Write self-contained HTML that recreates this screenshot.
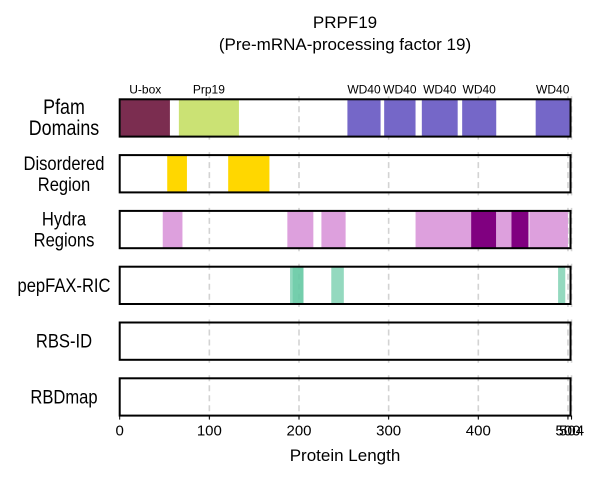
<!DOCTYPE html>
<html><head><meta charset="utf-8"><style>
body{margin:0;background:#fff;width:600px;height:480px;overflow:hidden}
svg{display:block;font-family:"Liberation Sans",Arial,sans-serif}
</style></head><body>
<svg id="chart" width="600" height="480" xmlns="http://www.w3.org/2000/svg">
<text x="345" y="28" text-anchor="middle" font-size="17">PRPF19</text>
<text x="345" y="50" text-anchor="middle" font-size="17">(Pre-mRNA-processing factor 19)</text>
<text x="345" y="461" text-anchor="middle" font-size="17">Protein Length</text>
<g id="plot"></g>
</svg>
<script>
const tracks = ["Pfam Domains","Disordered Region","Hydra Regions","pepFAX-RIC","RBS-ID","RBDmap"];
const pfamStarts = [1,66,254,295,337,382,464];
const pfamEnds = [56,133,291,330,377,420,502];
const pfamNames = ["U-box","Prp19","WD40","WD40","WD40","WD40","WD40"];
const pfamColors = ["#7b2d50","#cbe274","#7567c8","#7567c8","#7567c8","#7567c8","#7567c8"];
const disStarts = [53,121];
const disEnds = [75,167];
const hydraStarts = [48,187,225,330,392,420,437,457];
const hydraEnds = [70,216,252,392,420,437,456,500];
const hydraLevels = [1,1,1,1,2,1,2,1];
const pepStarts = [190,193,236,489];
const pepEnds = [205,205,250,497];
const tickValues = [0,100,200,300,400,500,504];
const proteinLength = 504;

const svg = document.getElementById('plot');
const NS = "http://www.w3.org/2000/svg";
const x0 = 119.7, xs = 0.8965;
function X(v){return x0 + v*xs;}
const rowTop = 99.3, rowH = 37.3, rowStep = 55.8;
function Y(i){return rowTop + i*rowStep;}
function mk(tag, attrs){const e=document.createElementNS(NS,tag);for(const k in attrs)e.setAttribute(k,attrs[k]);svg.appendChild(e);return e;}

tracks.forEach((t,i)=>{
  const r=mk('rect',{x:X(0),y:Y(i),width:X(proteinLength)-X(0)-1,height:rowH,fill:'#fff'});
  
  
});
tickValues.slice(1).forEach(v=>{
  tracks.forEach((t,i)=>{
    const l=mk('line',{x1:X(v),x2:X(v),y1:Y(i)-3,y2:Y(i)+rowH+3,stroke:'#d3d3d3','stroke-width':1.6,'stroke-dasharray':'6,4'});
    
    
  });
});
function seg(i,s,e,color,op){
  return mk('rect',{x:X(s),y:Y(i),width:X(e)-X(s),height:rowH,fill:color,'fill-opacity':op});
}
pfamStarts.forEach((s,k)=>{
  const r=seg(0,s,pfamEnds[k],pfamColors[k],1);
  
  
  const t=mk('text',{x:(X(s)+X(pfamEnds[k]))/2,y:Y(0)-6,'text-anchor':'middle','font-size':12});
  t.textContent=pfamNames[k];
  
  
});
disStarts.forEach((s,k)=>{
  const r=seg(1,s,disEnds[k],'#ffd700',1);
  
  
});
hydraStarts.forEach((s,k)=>{
  const r=seg(2,s,hydraEnds[k],hydraLevels[k]==2?'#800080':'#dda0dd',1);
  
  
});
pepStarts.forEach((s,k)=>{
  const r=seg(3,s,pepEnds[k],'#66c9a4',0.7);
  
  
});
tracks.forEach((t,i)=>{
  const b=mk('rect',{x:X(0),y:Y(i),width:X(proteinLength)-X(0)-1,height:rowH,fill:'none',stroke:'#000','stroke-width':2});
  
  
  const parts = i===0?["Pfam","Domains"]:i===1?["Disordered","Region"]:i===2?["Hydra","Regions"]:[t];
  const fs = i===0?21:19.5;
  const cy = Y(i)+rowH/2;
  parts.forEach((p,j)=>{
    const tt=mk('text',{x:64,y:cy+6.6+(j-(parts.length-1)/2)*21,'text-anchor':'middle','font-size':fs,transform:`translate(64 0) scale(0.85 1) translate(-64 0)`});
    tt.textContent=p;
    
    
  });
});
const axisY = Y(5)+rowH;
tickValues.forEach(v=>{
  const l=mk('line',{x1:X(v),x2:X(v),y1:axisY,y2:axisY+4,stroke:'#000','stroke-width':1});
  
  
  const t=mk('text',{x:X(v),y:axisY+20,'text-anchor':'middle','font-size':15});
  t.textContent=v;
  
  
});
</script>
</body></html>
